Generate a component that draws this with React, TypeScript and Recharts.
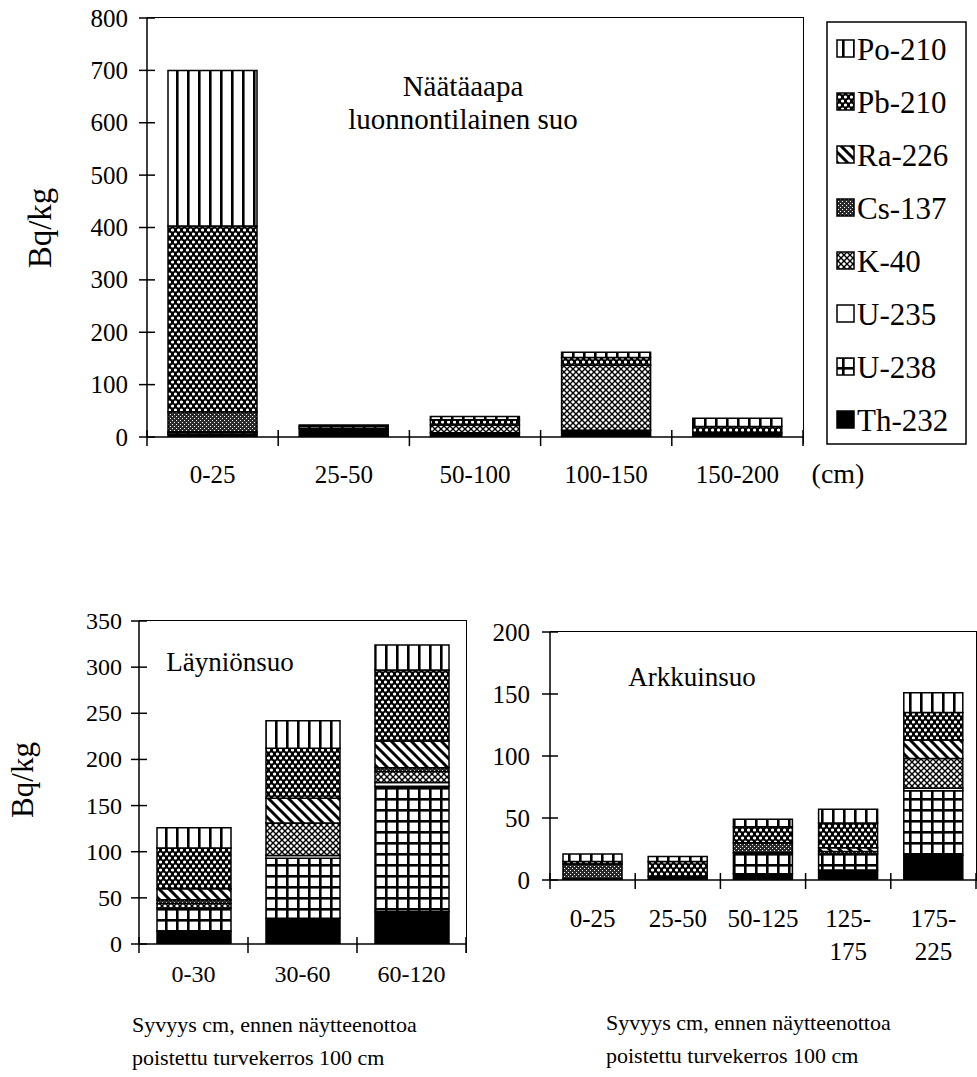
import React from 'react';
import { BarChart, Bar, XAxis, YAxis } from 'recharts';

const serif = '"Liberation Serif", "Times New Roman", serif';

// stacking order, bottom to top (legend is drawn in reverse)
const isotopes = ['Th-232', 'U-238', 'U-235', 'K-40', 'Cs-137', 'Ra-226', 'Pb-210', 'Po-210'];

// Näätäaapa, luonnontilainen suo
const topCats = ['0-25', '25-50', '50-100', '100-150', '150-200'];
const topTh232 = [5, 16, 8, 13, 8];
const topU238 = [3, 4, 0, 0, 0];
const topU235 = [2, 0, 0, 0, 0];
const topK40 = [0, 0, 15, 124, 0];
const topCs137 = [38, 0, 0, 0, 0];
const topRa226 = [0, 0, 0, 0, 0];
const topPb210 = [355, 3, 10, 15, 12];
const topPo210 = [297, 0, 6, 10, 16];
const topTicks = [0, 100, 200, 300, 400, 500, 600, 700, 800];

// Läyniönsuo
const leftCats = ['0-30', '30-60', '60-120'];
const leftTh232 = [14, 28, 35];
const leftU238 = [25, 65, 136];
const leftU235 = [0, 3, 4];
const leftK40 = [5, 35, 12];
const leftCs137 = [4, 0, 4];
const leftRa226 = [12, 27, 29];
const leftPb210 = [44, 54, 77];
const leftPo210 = [22, 30, 27];
const leftTicks = [0, 50, 100, 150, 200, 250, 300, 350];

// Arkkuinsuo
const rightCats = ['0-25', '25-50', '50-125', '125-175', '175-225'];
const rightTh232 = [1, 3, 5, 8, 20];
const rightU238 = [0, 0, 17, 13, 52];
const rightU235 = [0, 0, 0, 0, 2];
const rightK40 = [0, 0, 0, 0, 24];
const rightCs137 = [12, 0, 8, 2, 0];
const rightRa226 = [0, 0, 0, 3, 15];
const rightPb210 = [2, 12, 13, 20, 22];
const rightPo210 = [6, 4, 6, 11, 16];
const rightTicks = [0, 50, 100, 150, 200];

function buildRows(cats: string[], series: number[][]) {
  return cats.map((cat, i) => {
    const row: Record<string, any> = { cat };
    isotopes.forEach((iso, k) => {
      row[iso] = series[k][i];
    });
    return row;
  });
}

const topData = buildRows(topCats, [topTh232, topU238, topU235, topK40, topCs137, topRa226, topPb210, topPo210]);
const leftData = buildRows(leftCats, [leftTh232, leftU238, leftU235, leftK40, leftCs137, leftRa226, leftPb210, leftPo210]);
const rightData = buildRows(rightCats, [rightTh232, rightU238, rightU235, rightK40, rightCs137, rightRa226, rightPb210, rightPo210]);

function fillFor(p: string, iso: string) {
  switch (iso) {
    case 'Th-232': return '#000';
    case 'U-235': return '#fff';
    case 'U-238': return `url(#${p}-u238)`;
    case 'K-40': return `url(#${p}-k40)`;
    case 'Cs-137': return `url(#${p}-cs137)`;
    case 'Ra-226': return `url(#${p}-ra226)`;
    case 'Pb-210': return `url(#${p}-pb210)`;
    default: return `url(#${p}-po210)`;
  }
}

function patternDefs(p: string) {
  return [
    <pattern key="po" id={`${p}-po210`} width={11} height={11} patternUnits="userSpaceOnUse">
      <rect width={11} height={11} fill="#fff" />
      <rect width={2.6} height={11} fill="#000" />
    </pattern>,
    // dark with staggered white dots
    <pattern key="pb" id={`${p}-pb210`} width={6} height={8} patternUnits="userSpaceOnUse">
      <rect width={6} height={8} fill="#000" />
      <ellipse cx={1.5} cy={2} rx={1.6} ry={1.5} fill="#fff" />
      <ellipse cx={4.5} cy={6} rx={1.6} ry={1.5} fill="#fff" />
    </pattern>,
    <pattern key="ra" id={`${p}-ra226`} width={10} height={10} patternUnits="userSpaceOnUse">
      <rect width={10} height={10} fill="#fff" />
      <path d="M-1,-1 L11,11 M-1,9 L1,11 M9,-1 L11,1" stroke="#000" strokeWidth={3} />
    </pattern>,
    <pattern key="cs" id={`${p}-cs137`} width={4} height={4} patternUnits="userSpaceOnUse">
      <rect width={4} height={4} fill="#2a2a2a" />
      <rect x={0} y={0} width={1} height={1} fill="#fff" />
      <rect x={2} y={2} width={1} height={1} fill="#fff" />
    </pattern>,
    <pattern key="k" id={`${p}-k40`} width={6} height={6} patternUnits="userSpaceOnUse">
      <rect width={6} height={6} fill="#fff" />
      <path d="M0,0 L6,6 M6,0 L0,6" stroke="#000" strokeWidth={1.4} />
    </pattern>,
    <pattern key="u" id={`${p}-u238`} width={11} height={11} patternUnits="userSpaceOnUse">
      <rect width={11} height={11} fill="#fff" />
      <rect width={2.6} height={11} fill="#000" />
      <rect width={11} height={2.6} fill="#000" />
    </pattern>,
  ];
}

const makeYTick = (gap: number, fontSize: number) => (props: any) => {
  const { x, y, payload } = props;
  return (
    <g>
      <line x1={x - 8} x2={x + 8} y1={y} y2={y} stroke="#000" strokeWidth={1.5} />
      <text x={x - gap} y={y} textAnchor="end" dominantBaseline="central" fontSize={fontSize} fontFamily={serif} fill="#000">
        {payload.value}
      </text>
    </g>
  );
};

const makeXTick = (bw: number, n: number, dy: number, fontSize: number, wrap = false) => (props: any) => {
  const { x, y, payload, index } = props;
  const v: string = String(payload.value);
  const cut = v.indexOf('-') + 1;
  const lines = wrap && v.length > 6 ? [v.slice(0, cut), v.slice(cut)] : [v];
  return (
    <g>
      <line x1={x - bw / 2} x2={x - bw / 2} y1={y - 7} y2={y + 9} stroke="#000" strokeWidth={1.5} />
      {index === n - 1 && (
        <line x1={x + bw / 2} x2={x + bw / 2} y1={y - 7} y2={y + 9} stroke="#000" strokeWidth={1.5} />
      )}
      {lines.map((l, i) => (
        <text key={i} x={x} y={y + dy + i * 33} textAnchor="middle" dominantBaseline="central" fontSize={fontSize} fontFamily={serif} fill="#000">
          {l}
        </text>
      ))}
    </g>
  );
};

function StackChart(props: {
  id: string; data: any[]; width: number; height: number; margin: any;
  yWidth: number; xHeight: number; domain: number[]; ticks: number[];
  barSize: number; yGap: number; xDy: number; plotW: number; font: number; wrap?: boolean;
}) {
  const n = props.data.length;
  return (
    <BarChart width={props.width} height={props.height} data={props.data} margin={props.margin}>
      <defs>{patternDefs(props.id)}</defs>
      <XAxis
        dataKey="cat"
        height={props.xHeight}
        interval={0}
        tickSize={0}
        tickMargin={0}
        tickLine={false}
        axisLine={{ stroke: '#000', strokeWidth: 1.5 }}
        tick={makeXTick(props.plotW / n, n, props.xDy, props.font, props.wrap)}
      />
      <YAxis
        width={props.yWidth}
        domain={props.domain}
        ticks={props.ticks}
        interval={0}
        allowDataOverflow
        tickSize={0}
        tickMargin={0}
        tickLine={false}
        axisLine={{ stroke: '#000', strokeWidth: 1.5 }}
        tick={makeYTick(props.yGap, props.font)}
      />
      {isotopes.map((iso) => (
        <Bar
          key={iso}
          dataKey={iso}
          stackId="a"
          fill={fillFor(props.id, iso)}
          stroke="#000"
          strokeWidth={1.5}
          barSize={props.barSize}
          isAnimationActive={false}
        />
      ))}
    </BarChart>
  );
}

function Txt(props: { x: number; y: number; size: number; children: React.ReactNode; left?: boolean; rotate?: boolean }) {
  const t = props.left ? 'translate(0,-50%)' : props.rotate ? 'translate(-50%,-50%) rotate(-90deg)' : 'translate(-50%,-50%)';
  return (
    <div style={{ position: 'absolute', left: props.x, top: props.y, transform: t, fontSize: props.size, fontFamily: serif, whiteSpace: 'nowrap', lineHeight: 1, color: '#000' }}>
      {props.children}
    </div>
  );
}

function Frame(props: { left: number; top: number; width: number; height: number }) {
  return (
    <div style={{ position: 'absolute', left: props.left, top: props.top, width: props.width, height: props.height, borderTop: '1.5px solid #000', borderRight: '1.5px solid #000', boxSizing: 'border-box' }} />
  );
}

function Legend() {
  const items = [...isotopes].reverse();
  return (
    <svg width={160} height={440} style={{ position: 'absolute', left: 820, top: 15 }}>
      <defs>{patternDefs('lg')}</defs>
      <rect x={7} y={7} width={139} height={422} fill="#fff" stroke="#000" strokeWidth={1.5} />
      {items.map((iso, i) => (
        <g key={iso}>
          <rect x={17} y={25 + 53 * i} width={17} height={17} fill={fillFor('lg', iso)} stroke="#000" strokeWidth={1.5} />
          <text x={37} y={34 + 53 * i} dominantBaseline="central" fontSize={31} fontFamily={serif} fill="#000">
            {iso}
          </text>
        </g>
      ))}
    </svg>
  );
}

export default function App() {
  return (
    <div style={{ position: 'absolute', left: 0, top: 0, width: 977, height: 1077, background: '#fff', overflow: 'hidden' }}>
      {/* top chart: plot x 147..803, y 18..437 */}
      <div style={{ position: 'absolute', left: 0, top: 0 }}>
        <StackChart
          id="t" data={topData} width={820} height={500}
          margin={{ top: 18, right: 17, left: 0, bottom: 3 }}
          yWidth={147} xHeight={60} domain={[0, 800]} ticks={topTicks}
          barSize={89} yGap={19} xDy={37} plotW={656} font={25}
        />
      </div>
      <Frame left={147} top={17} width={657} height={427} />
      <Legend />
      <Txt x={463} y={86} size={29}>Näätäaapa</Txt>
      <Txt x={463} y={119} size={29}>luonnontilainen suo</Txt>
      <Txt x={40} y={228} size={33} rotate>Bq/kg</Txt>
      <Txt x={838} y={474} size={28}>(cm)</Txt>

      {/* bottom left: plot x 139..466, y 621..944 */}
      <div style={{ position: 'absolute', left: 0, top: 600 }}>
        <StackChart
          id="l" data={leftData} width={480} height={400}
          margin={{ top: 21, right: 14, left: 0, bottom: 16 }}
          yWidth={139} xHeight={40} domain={[0, 350]} ticks={leftTicks}
          barSize={74} yGap={17} xDy={30} plotW={327} font={24}
        />
      </div>
      <Frame left={139} top={620} width={328} height={333} />
      <Txt x={230} y={662} size={27}>Läyniönsuo</Txt>
      <Txt x={22} y={780} size={31} rotate>Bq/kg</Txt>
      <Txt x={132} y={1025} size={22} left>Syvyys cm, ennen näytteenottoa</Txt>
      <Txt x={132} y={1058} size={22} left>poistettu turvekerros 100 cm</Txt>

      {/* bottom right: plot x 550..976, y 632..880 */}
      <div style={{ position: 'absolute', left: 480, top: 600 }}>
        <StackChart
          id="r" data={rightData} width={497} height={400}
          margin={{ top: 32, right: 1, left: 0, bottom: 40 }}
          yWidth={70} xHeight={80} domain={[0, 200]} ticks={rightTicks}
          barSize={59} yGap={20} xDy={38} plotW={426} font={25} wrap
        />
      </div>
      <Frame left={550} top={631} width={427} height={250} />
      <Txt x={692} y={677} size={27}>Arkkuinsuo</Txt>
      <Txt x={606} y={1023} size={22} left>Syvyys cm, ennen näytteenottoa</Txt>
      <Txt x={606} y={1056} size={22} left>poistettu turvekerros 100 cm</Txt>
    </div>
  );
}
